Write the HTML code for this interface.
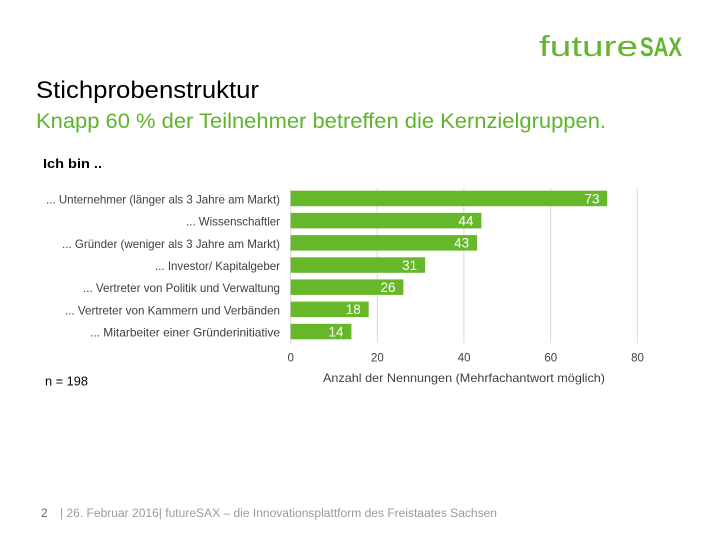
<!DOCTYPE html>
<html><head><meta charset="utf-8"><style>
html,body{margin:0;padding:0;background:#fff;}
svg{display:block;}
text{font-family:"Liberation Sans",Arial,sans-serif;}
</style></head><body>
<svg width="720" height="540" viewBox="0 0 720 540" xmlns="http://www.w3.org/2000/svg">
<rect width="720" height="540" fill="#fff"/>
<!-- logo -->
<text x="539" y="56" font-size="29" fill="#66b52e" textLength="99" lengthAdjust="spacingAndGlyphs">future</text>
<text x="640" y="56" font-size="27" font-weight="bold" fill="#66b52e" textLength="42" lengthAdjust="spacingAndGlyphs">SAX</text>
<!-- titles -->
<text x="36" y="98" font-size="24" fill="#000" textLength="223" lengthAdjust="spacingAndGlyphs">Stichprobenstruktur</text>
<text x="36" y="128" font-size="21" fill="#5db42c" textLength="570" lengthAdjust="spacingAndGlyphs">Knapp 60 % der Teilnehmer betreffen die Kernzielgruppen.</text>
<text x="43" y="168" font-size="13" font-weight="bold" fill="#000" textLength="59" lengthAdjust="spacingAndGlyphs">Ich bin ..</text>
<!-- gridlines -->
<g stroke="#d9d9d9" stroke-width="1">
<line x1="290.5" y1="188" x2="290.5" y2="343"/>
<line x1="377.2" y1="188" x2="377.2" y2="343"/>
<line x1="463.9" y1="188" x2="463.9" y2="343"/>
<line x1="550.6" y1="188" x2="550.6" y2="343"/>
<line x1="637.3" y1="188" x2="637.3" y2="343"/>
</g>
<!-- bars -->
<g fill="#67b72b">
<rect x="290.7" y="190.7" width="316.5" height="15.5"/>
<rect x="290.7" y="212.9" width="190.7" height="15.5"/>
<rect x="290.7" y="235.1" width="186.4" height="15.5"/>
<rect x="290.7" y="257.3" width="134.4" height="15.5"/>
<rect x="290.7" y="279.4" width="112.7" height="15.5"/>
<rect x="290.7" y="301.6" width="78.0" height="15.5"/>
<rect x="290.7" y="323.8" width="60.7" height="15.5"/>
</g>
<!-- bar values -->
<g font-size="13.5" fill="#fff" text-anchor="end">
<text x="599.5" y="203.3">73</text>
<text x="473.5" y="225.5">44</text>
<text x="469.2" y="247.7">43</text>
<text x="417.2" y="269.9">31</text>
<text x="395.5" y="292">26</text>
<text x="360.8" y="314.2">18</text>
<text x="343.5" y="336.4">14</text>
</g>
<!-- category labels -->
<g font-size="12" fill="#404040" text-anchor="end">
<text x="280" y="203.4" textLength="234" lengthAdjust="spacingAndGlyphs">... Unternehmer (länger als 3 Jahre am Markt)</text>
<text x="280" y="225.6" textLength="94" lengthAdjust="spacingAndGlyphs">... Wissenschaftler</text>
<text x="280" y="247.8" textLength="218" lengthAdjust="spacingAndGlyphs">... Gründer (weniger als 3 Jahre am Markt)</text>
<text x="280" y="270" textLength="125" lengthAdjust="spacingAndGlyphs">... Investor/ Kapitalgeber</text>
<text x="280" y="292.1" textLength="197" lengthAdjust="spacingAndGlyphs">... Vertreter von Politik und Verwaltung</text>
<text x="280" y="314.3" textLength="215" lengthAdjust="spacingAndGlyphs">... Vertreter von Kammern und Verbänden</text>
<text x="280" y="336.5" textLength="190" lengthAdjust="spacingAndGlyphs">... Mitarbeiter einer Gründerinitiative</text>
</g>
<!-- ticks -->
<g font-size="11.5" fill="#404040" text-anchor="middle">
<text x="290.7" y="361.5">0</text>
<text x="377.4" y="361.5">20</text>
<text x="464.1" y="361.5">40</text>
<text x="550.8" y="361.5">60</text>
<text x="637.5" y="361.5">80</text>
</g>
<text x="323" y="382" font-size="12" fill="#404040" textLength="282" lengthAdjust="spacingAndGlyphs">Anzahl der Nennungen (Mehrfachantwort möglich)</text>
<text x="45" y="385.5" font-size="13" fill="#000" textLength="43" lengthAdjust="spacingAndGlyphs">n = 198</text>
<!-- footer -->
<text x="41" y="517" font-size="12" fill="#666">2</text>
<text x="60" y="517" font-size="11.5" fill="#9a9a9a" textLength="437" lengthAdjust="spacingAndGlyphs">| 26. Februar 2016| futureSAX – die Innovationsplattform  des Freistaates Sachsen</text>
</svg>
</body></html>
